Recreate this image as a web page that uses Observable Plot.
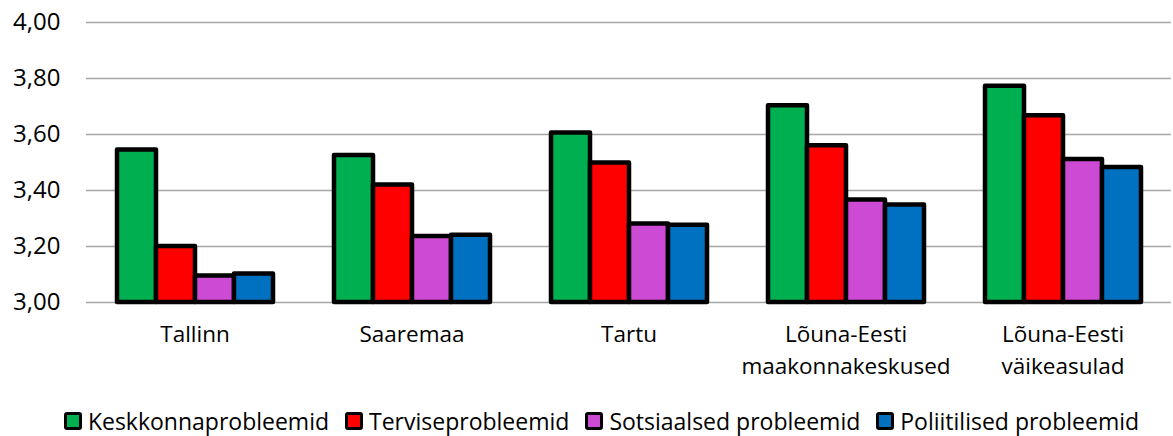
<!DOCTYPE html>
<html>
<head>
<meta charset="utf-8">
<script src="https://cdn.jsdelivr.net/npm/d3@7"></script>
<script src="https://cdn.jsdelivr.net/npm/@observablehq/plot@0.6"></script>
<style>
  html, body { margin: 0; padding: 0; background: #fff; }
  #chart { width: 1173px; height: 436px; position: relative; font-family: "Open Sans", sans-serif; overflow: hidden; }
  #legend { position: absolute; left: 0; top: 409px; width: 1143px; padding-left: 30px; height: 24px; display: flex; justify-content: center; font-family: "Open Sans", sans-serif; font-size: 23px; line-height: 24px; color: #000; }
  .item { display: flex; align-items: center; margin: 0 8px; height: 24px; }
  .sw { width: 12px; height: 12px; border: 3px solid #000; border-radius: 3px; margin-right: 6px; }
</style>
</head>
<body>
<div id="chart"></div>
<script>
const categories = ["Tallinn", "Saaremaa", "Tartu", "Lõuna-Eesti\nmaakonnakeskused", "Lõuna-Eesti\nväikeasulad"];
const series = ["Keskkonnaprobleemid", "Terviseprobleemid", "Sotsiaalsed probleemid", "Poliitilised probleemid"];
const colors = ["#00B050", "#FF0000", "#CC4AD4", "#0070C0"];
const keskkonna = [3.545, 3.525, 3.605, 3.703, 3.772];
const tervise   = [3.200, 3.420, 3.498, 3.560, 3.667];
const sotsiaal  = [3.095, 3.236, 3.280, 3.366, 3.511];
const poliitil  = [3.102, 3.240, 3.276, 3.348, 3.482];
const yTicks = [3.0, 3.2, 3.4, 3.6, 3.8, 4.0];

const valuesBySeries = [keskkonna, tervise, sotsiaal, poliitil];
const data = [];
categories.forEach((c, i) => {
  series.forEach((s, j) => data.push({category: c, series: s, value: valuesBySeries[j][i]}));
});

const fmt = d => d.toFixed(2).replace(".", ",");

const plot = Plot.plot({
  width: 1173,
  height: 409,
  marginLeft: 84,
  marginRight: 0,
  marginTop: 22,
  marginBottom: 107,
  style: {fontFamily: "Open Sans, sans-serif", color: "#000", background: "#fff"},
  fx: {domain: categories, paddingInner: 0.265, paddingOuter: 0.1325, label: null, axis: null},
  x: {domain: series, padding: 0, axis: null},
  y: {domain: [3, 4], label: null, axis: null},
  color: {domain: series, range: colors},
  marks: [
    Plot.ruleY(yTicks, {stroke: "#a6a6a6", strokeWidth: 1.6, insetLeft: -29, insetRight: -29}),
    Plot.barY(data, {fx: "category", x: "series", y1: 3, y2: "value", fill: "series", stroke: "#000", strokeWidth: 4.5, strokeLinejoin: "round", inset: 0}),
    Plot.axisY({ticks: yTicks, tickFormat: fmt, tickSize: 0, tickPadding: 55, fontSize: 24, label: null}),
    Plot.axisFx({anchor: "bottom", tickSize: 0, tickPadding: 17, fontSize: 22.5, lineHeight: 1.42, label: null})
  ]
});
document.getElementById("chart").appendChild(plot);

const legend = document.createElement("div");
legend.id = "legend";
series.forEach((s, j) => {
  const it = document.createElement("div");
  it.className = "item";
  const sw = document.createElement("div");
  sw.className = "sw";
  sw.style.background = colors[j];
  const t = document.createElement("span");
  t.textContent = s;
  it.appendChild(sw);
  it.appendChild(t);
  legend.appendChild(it);
});
document.getElementById("chart").appendChild(legend);
</script>
</body>
</html>
